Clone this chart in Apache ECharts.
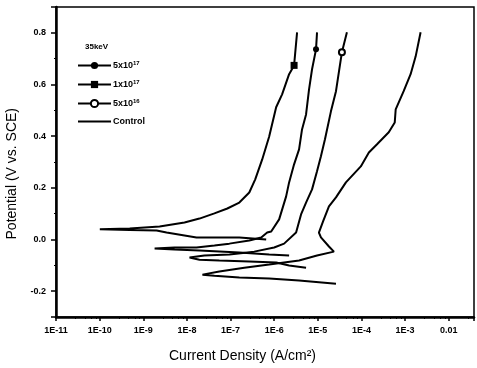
<!DOCTYPE html>
<html>
<head>
<meta charset="utf-8">
<script src="https://cdn.jsdelivr.net/npm/echarts@6/dist/echarts.min.js"></script>
<style>
  html, body { margin: 0; padding: 0; background: #fff; }
  #chart { width: 477px; height: 368px; }
</style>
</head>
<body>
<div id="chart"></div>
<script>
// 各曲线: 阴极支末端 -> 腐蚀电位尖端 -> 阳极支 (电流 A/cm², 电位 V vs SCE)
const cur1e17 = [6.56e-7, 1.59e-7, 1.66e-8, 3.42e-9, 2.02e-9, 4.89e-10, 1.01e-10,
  4.89e-10, 2.37e-9, 8.81e-9, 1.94e-8, 4.27e-8, 8.45e-8, 1.59e-7, 2.69e-7, 3.68e-7,
  5.32e-7, 7.69e-7, 1.11e-6, 1.52e-6, 2.20e-6, 2.86e-6, 3.35e-6]
const pot1e17 = [0.000, 0.008, 0.008, 0.027, 0.035, 0.037, 0.040,
  0.043, 0.050, 0.066, 0.081, 0.101, 0.120, 0.143, 0.182, 0.233,
  0.310, 0.399, 0.512, 0.562, 0.640, 0.674, 0.802]

const cur5e17 = [2.20e-6, 7.69e-7, 1.59e-7, 1.94e-8, 5.21e-9, 1.82e-9,
  5.21e-9, 1.66e-8, 4.27e-8, 9.40e-8, 2.69e-7, 5.05e-7, 6.92e-7, 8.55e-7, 1.30e-6,
  1.88e-6, 2.20e-6, 2.86e-6, 3.72e-6, 4.35e-6, 5.38e-6, 6.30e-6, 7.38e-6, 9.10e-6, 9.60e-6]
const pot5e17 = [-0.062, -0.058, -0.050, -0.043, -0.039, -0.035,
  -0.031, -0.031, -0.023, -0.016, -0.004, 0.008, 0.027, 0.031, 0.078,
  0.167, 0.221, 0.291, 0.349, 0.426, 0.484, 0.581, 0.659, 0.736, 0.802]

const cur5e16 = [5.38e-6, 2.20e-6, 1.11e-6, 2.69e-7, 5.54e-8, 1.94e-8, 1.15e-8,
  2.52e-8, 9.40e-8, 3.49e-7, 1.00e-6, 1.69e-6, 3.18e-6, 4.13e-6, 5.38e-6, 7.38e-6,
  9.60e-6, 1.18e-5, 1.46e-5, 2.00e-5, 2.61e-5, 3.57e-5, 4.65e-5]
const pot5e16 = [-0.109, -0.101, -0.089, -0.085, -0.081, -0.078, -0.070,
  -0.062, -0.058, -0.047, -0.031, -0.016, 0.027, 0.097, 0.143, 0.194,
  0.264, 0.322, 0.388, 0.496, 0.574, 0.725, 0.802]

const curCtrl = [2.61e-5, 3.72e-6, 7.69e-7, 1.59e-7, 4.27e-8, 2.27e-8,
  5.54e-8, 2.07e-7, 7.69e-7, 3.72e-6, 9.60e-6, 2.34e-5, 1.80e-5, 1.18e-5, 1.06e-5,
  1.32e-5, 1.80e-5, 2.61e-5, 4.41e-5, 9.68e-5, 1.48e-4, 2.25e-4, 4.23e-4, 5.80e-4,
  6.10e-4, 9.29e-4, 1.34e-3, 1.75e-3, 2.27e-3]
const potCtrl = [-0.171, -0.159, -0.151, -0.147, -0.140, -0.136,
  -0.124, -0.109, -0.097, -0.081, -0.062, -0.047, -0.027, 0.008, 0.027,
  0.070, 0.128, 0.163, 0.221, 0.283, 0.337, 0.368, 0.415, 0.453,
  0.504, 0.574, 0.640, 0.709, 0.802]

const seriesNames = ['5x10^17', '1x10^17', '5x10^16', 'Control']

const zip = (xs, ys) => xs.map((x, i) => [x, ys[i]])

// 只在曲线上画一个符号 (原图符号很稀疏)
const oneMark = (idx, size) => (val, params) => (params.dataIndex === idx ? size : 0)

const lineStyle = { color: '#000', width: 2 }
const font = 'Liberation Sans'

const chart = echarts.init(document.getElementById('chart'))

chart.setOption({
  animation: false,
  backgroundColor: '#fff',
  textStyle: { fontFamily: font, color: '#000' },
  title: {
    text: '35keV',
    left: 80,
    top: 38,
    textStyle: { fontSize: 8, fontWeight: 'bold', color: '#000', fontFamily: font }
  },
  legend: {
    orient: 'vertical',
    left: 77,
    top: 60,
    padding: 0,
    itemWidth: 33,
    itemHeight: 9,
    itemGap: 9,
    data: [
      seriesNames[0],
      seriesNames[1],
      seriesNames[2],
      { name: seriesNames[3], itemStyle: { opacity: 0 } }
    ],
    formatter: (name) => {
      if (name === 'Control') return name
      const [base, exp] = name.split('^')
      return base + '{sup|' + exp + '}'
    },
    textStyle: {
      fontSize: 9,
      fontWeight: 'bold',
      color: '#000',
      fontFamily: font,
      padding: [0, 0, 0, -3],
      rich: {
        sup: { fontSize: 6, fontWeight: 'bold', verticalAlign: 'top', padding: [0, 0, 5, 0], color: '#000' }
      }
    }
  },
  grid: {
    left: 56,
    right: 1,
    top: 7,
    bottom: 51,
    show: true,
    borderColor: '#000',
    borderWidth: 1.5
  },
  xAxis: {
    type: 'log',
    min: 1e-11,
    max: 0.038,
    logBase: 10,
    axisLine: { onZero: false, lineStyle: { color: '#000', width: 2.5 } },
    axisTick: { show: true, inside: false, length: 4, lineStyle: { color: '#000', width: 1.5 } },
    minorTick: { show: true, splitNumber: 5, length: 2, lineStyle: { color: '#000' } },
    splitLine: { show: false },
    axisLabel: {
      fontSize: 9,
      fontWeight: 'bold',
      color: '#000',
      margin: 9,
      formatter: (v) => {
        const lg = Math.log10(v)
        const e = Math.round(lg)
        if (Math.abs(lg - e) > 0.01) return ''
        if (e === -2) return '0.01'
        return '1E' + e
      }
    }
  },
  yAxis: {
    type: 'value',
    min: -0.3,
    max: 0.9,
    splitNumber: 6,
    axisLine: { show: true, onZero: false, lineStyle: { color: '#000', width: 2.5 } },
    axisTick: { show: true, inside: false, length: 5, lineStyle: { color: '#000', width: 1.5 } },
    minorTick: { show: true, splitNumber: 2, length: 2, lineStyle: { color: '#000' } },
    splitLine: { show: false },
    axisLabel: {
      fontSize: 9,
      fontWeight: 'bold',
      color: '#000',
      margin: 10,
      showMinLabel: false,
      showMaxLabel: false,
      formatter: (v) => v.toFixed(1)
    }
  },
  graphic: [
    {
      type: 'text',
      left: 169,
      top: 349,
      style: { text: 'Current Density (A/cm²)', font: '14px "Liberation Sans"', fill: '#000' }
    },
    {
      type: 'text',
      left: 5,
      top: 108,
      rotation: Math.PI / 2,
      style: { text: 'Potential (V vs. SCE)', font: '14px "Liberation Sans"', fill: '#000' }
    }
  ],
  series: [
    {
      name: seriesNames[0],
      type: 'line',
      data: zip(cur5e17, pot5e17),
      symbol: 'circle',
      symbolSize: oneMark(23, 6),
      showAllSymbol: true,
      itemStyle: { color: '#000' },
      lineStyle
    },
    {
      name: seriesNames[1],
      type: 'line',
      data: zip(cur1e17, pot1e17),
      symbol: 'rect',
      symbolSize: oneMark(21, 7),
      showAllSymbol: true,
      itemStyle: { color: '#000' },
      lineStyle
    },
    {
      name: seriesNames[2],
      type: 'line',
      data: zip(cur5e16, pot5e16),
      symbol: 'emptyCircle',
      symbolSize: oneMark(21, 6),
      showAllSymbol: true,
      itemStyle: { color: '#000', borderColor: '#000', borderWidth: 1.5 },
      lineStyle
    },
    {
      name: seriesNames[3],
      type: 'line',
      data: zip(curCtrl, potCtrl),
      symbol: 'none',
      itemStyle: { color: '#000' },
      lineStyle
    }
  ]
})
</script>
</body>
</html>
